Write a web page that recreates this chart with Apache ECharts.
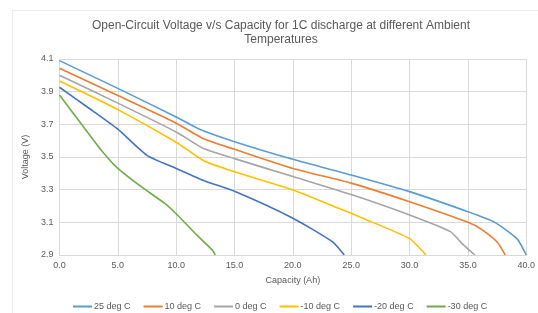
<!DOCTYPE html>
<html>
<head>
<meta charset="utf-8">
<script src="https://cdn.jsdelivr.net/npm/echarts@6/dist/echarts.min.js"></script>
<style>
  html, body { margin: 0; padding: 0; background: #fff; }
  #chart { width: 538px; height: 313px; }
</style>
</head>
<body>
<div id="chart"></div>
<script>
// capacity (Ah) / open-circuit voltage (V)
const seriesNames = ['25 deg C', '10 deg C', '0 deg C', '-10 deg C', '-20 deg C', '-30 deg C'];
const seriesColors = ['#5B9BD5', '#ED7D31', '#A5A5A5', '#FFC000', '#4472C4', '#70AD47'];

const cap25 = [0, 5, 10, 12, 15, 20, 25, 30, 35, 37.3, 39.2, 40];
const volt25 = [4.09, 3.92, 3.745, 3.67, 3.594, 3.486, 3.39, 3.288, 3.165, 3.10, 3.0, 2.9];

const cap10 = [0, 5, 10, 12.4, 15, 20, 25, 30, 35, 36.1, 37.5, 38.2];
const volt10 = [4.043, 3.876, 3.707, 3.61, 3.547, 3.43, 3.34, 3.226, 3.10, 3.06, 2.98, 2.9];

const cap0 = [0, 5, 10, 12.4, 15, 20, 25, 30, 33.5, 34.5, 35.6];
const volt0 = [4.0, 3.83, 3.653, 3.55, 3.49, 3.38, 3.27, 3.145, 3.043, 2.97, 2.9];

const capM10 = [0, 5, 10, 12.4, 15, 20, 24.3, 26, 30, 31.4];
const voltM10 = [3.965, 3.79, 3.59, 3.476, 3.41, 3.298, 3.175, 3.125, 3.0, 2.9];

const capM20 = [0, 2.5, 5, 7.5, 10, 12.4, 15, 20, 23.4, 24.4];
const voltM20 = [3.927, 3.80, 3.67, 3.51, 3.43, 3.355, 3.29, 3.125, 2.98, 2.9];

const capM30 = [0, 2, 3.6, 5, 7, 9, 10.1, 11.8, 13.1, 13.35];
const voltM30 = [3.88, 3.69, 3.54, 3.43, 3.318, 3.217, 3.145, 3.02, 2.93, 2.9];

const capList = [cap25, cap10, cap0, capM10, capM20, capM30];
const voltList = [volt25, volt10, volt0, voltM10, voltM20, voltM30];

const chart = echarts.init(document.getElementById('chart'), null, { renderer: 'canvas' });

const grey = '#595959';
const gridCol = '#D9D9D9';
const font = '"Liberation Sans", Arial, sans-serif';

const option = {
  backgroundColor: '#fff',
  animation: false,
  textStyle: { fontFamily: font },
  graphic: [{
    type: 'rect',
    shape: { x: 12.5, y: 10.5, width: 560, height: 340 },
    style: { fill: 'none', stroke: '#EBEBEB', lineWidth: 1 },
    silent: true
  }],
  title: {
    text: 'Open-Circuit Voltage v/s Capacity for 1C discharge at different Ambient\nTemperatures',
    left: 276,
    textAlign: 'center',
    top: 14,
    textStyle: { color: grey, fontSize: 12, fontWeight: 'normal', lineHeight: 14, fontFamily: font }
  },
  legend: {
    left: 68,
    top: 297,
    icon: 'rect',
    itemWidth: 19,
    itemHeight: 2,
    itemGap: 13,
    textStyle: { color: grey, fontSize: 9, fontFamily: font, padding: [0, 0, 0, -3] },
    data: seriesNames
  },
  grid: { left: 59.5, right: 8, top: 59, bottom: 58, containLabel: false },
  xAxis: {
    type: 'value',
    min: 0, max: 40, interval: 5,
    name: 'Capacity (Ah)',
    nameLocation: 'middle',
    nameGap: 21,
    nameTextStyle: { color: grey, fontSize: 9 },
    axisLine: { show: true, lineStyle: { color: gridCol } },
    axisTick: { show: false },
    axisLabel: { color: grey, fontSize: 9, margin: 6, formatter: v => v.toFixed(1) },
    splitLine: { show: true, lineStyle: { color: gridCol } }
  },
  yAxis: {
    type: 'value',
    min: 2.9, max: 4.1, interval: 0.2,
    name: 'Voltage (V)',
    nameLocation: 'middle',
    nameRotate: 90,
    nameGap: 24,
    nameTextStyle: { color: grey, fontSize: 9 },
    axisLine: { show: true, lineStyle: { color: gridCol } },
    axisTick: { show: false },
    axisLabel: { color: grey, fontSize: 9, margin: 6, formatter: v => v.toFixed(1) },
    splitLine: { show: true, lineStyle: { color: gridCol } }
  },
  series: seriesNames.map((name, i) => ({
    name,
    type: 'line',
    symbol: 'none',
    smooth: 0.2,
    color: seriesColors[i],
    lineStyle: { width: 1.6, color: seriesColors[i] },
    data: capList[i].map((c, j) => [c, voltList[i][j]])
  }))
};

chart.setOption(option);
</script>
</body>
</html>
